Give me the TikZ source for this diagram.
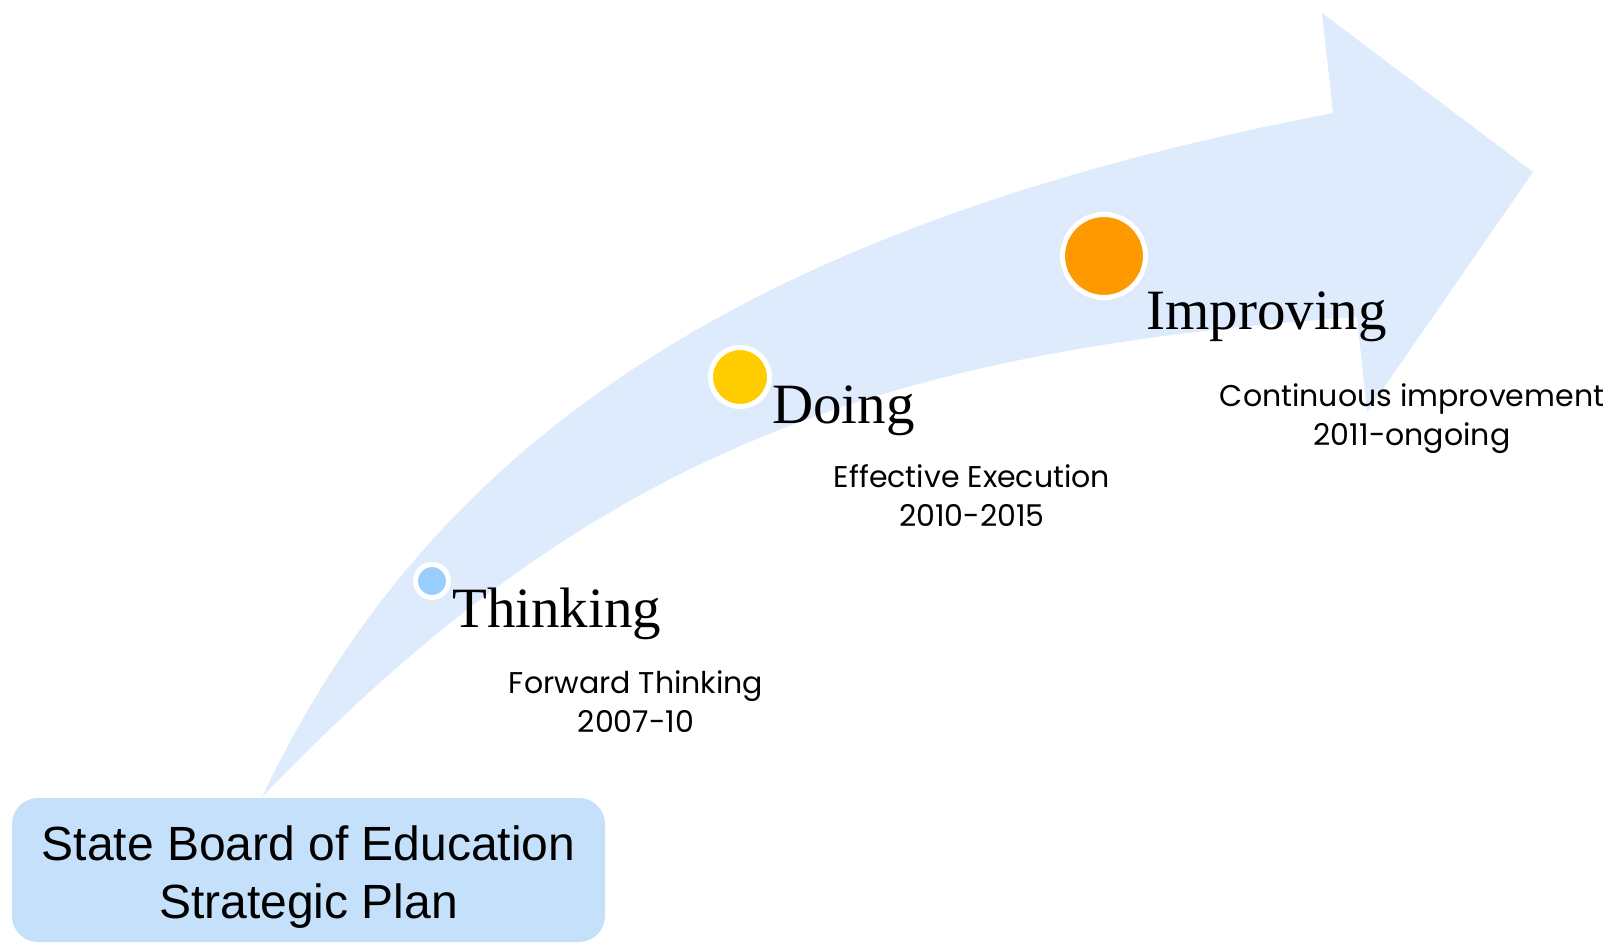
\documentclass[tikz,border=0pt]{standalone}
\usepackage{fontspec}
\newfontfamily\boxfont{Liberation Sans}
\newfontfamily\subfont{Poppins}
\newfontfamily\titlefont{Liberation Serif}
\usetikzlibrary{positioning}
\definecolor{arrowblue}{RGB}{221,235,253}
\definecolor{boxblue}{RGB}{197,224,250}
\definecolor{dotblue}{RGB}{153,204,255}
\definecolor{dotyellow}{RGB}{255,204,0}
\definecolor{dotorange}{RGB}{255,153,0}

\begin{document}
\begin{tikzpicture}[x=1pt, y=-1pt,
    dot/.style={circle, draw=white, line width=5pt, inner sep=0pt},
    title/.style={anchor=base west, inner sep=0pt, font=\titlefont\fontsize{57}{62}\selectfont},
    sub/.style={anchor=base, align=center, inner sep=0pt, font=\subfont\fontsize{30}{39}\selectfont},
    planbox/.style={fill=boxblue, rounded corners=26pt, minimum width=593pt, minimum height=144pt, inner sep=0pt},
    plantext/.style={anchor=base, align=center, inner sep=0pt, font=\boxfont\fontsize{48}{58}\selectfont}]
  \useasboundingbox (0,0) rectangle (1614,943);
  % Arrow {{{
  \fill[arrowblue] (262,797) .. controls (433,437) and (752,225) .. (1333,113)
    -- (1322,13) -- (1533,172) -- (1367,412) -- (1357,317)
    .. controls (857,352) and (582,464) .. (262,797) -- cycle;
  % }}}
  % Plan box {{{
  \node[planbox] (plan) at (308.5,870) {};
  \node[plantext] (plantext) at (308.5,918) {State Board of Education\\Strategic Plan};
  % }}}
  % Stages {{{
  \foreach \n/\col/\d/\x/\y in {think/dotblue/33/432/581, do/dotyellow/59/740/377, impr/dotorange/83/1104/256}
    \node[dot, fill=\col, minimum size=\d] (dot\n) at (\x,\y) {};
  \node[title] (thinking) at (452,627) {Thinking};
  \node[title] (doing) at (772,423) {Doing};
  \node[title] (improving) at (1146,329) {Improving};
  \node[sub] (forward) at (636,732) {Forward Thinking\\2007-10};
  \node[sub] (execution) at (972,526) {Effective Execution\\2010-2015};
  \node[sub] (continuous) at (1412,445) {Continuous improvement\\2011-ongoing};
  % }}}
\end{tikzpicture}
\end{document}
